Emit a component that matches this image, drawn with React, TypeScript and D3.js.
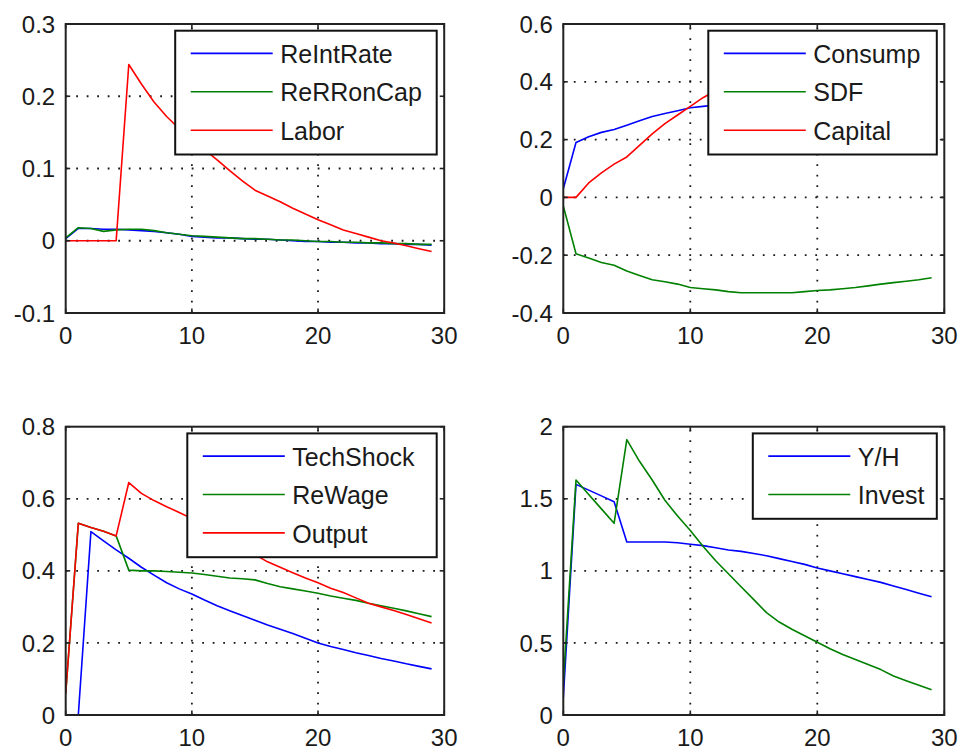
import React from "react";
import * as d3 from "d3";

// ---------- data ----------
const periods = [0, 1, 2, 3, 4, 5, 6, 7, 8, 9, 10, 11, 12, 13, 14, 15, 16, 17, 18, 19, 20, 21, 22, 23, 24, 25, 26, 27, 28, 29];
const xTicks = [0, 10, 20, 30];

// Panel 1
const reIntRate = [0.003, 0.017, 0.017, 0.016, 0.016, 0.015, 0.014, 0.013, 0.011, 0.009, 0.006, 0.005, 0.004, 0.004, 0.003, 0.002, 0.002, 0.001, 0.0, -0.001, -0.001, -0.002, -0.002, -0.003, -0.003, -0.004, -0.004, -0.005, -0.005, -0.006];
const reRRonCap = [0.004, 0.018, 0.017, 0.013, 0.015, 0.016, 0.016, 0.014, 0.011, 0.009, 0.007, 0.006, 0.005, 0.004, 0.003, 0.003, 0.002, 0.001, 0.001, 0.0, -0.001, -0.001, -0.002, -0.002, -0.003, -0.003, -0.004, -0.004, -0.005, -0.005];
const labor = [0, 0, 0, 0, 0, 0.244, 0.217, 0.192, 0.172, 0.155, 0.14, 0.126, 0.112, 0.097, 0.083, 0.07, 0.062, 0.054, 0.045, 0.037, 0.029, 0.022, 0.015, 0.01, 0.005, 0.0, -0.003, -0.007, -0.011, -0.015];
const yTicks1 = [-0.1, 0, 0.1, 0.2, 0.3];
const yLabels1 = ["-0.1", "0", "0.1", "0.2", "0.3"];

// Panel 2
const consump = [0.03, 0.19, 0.21, 0.225, 0.235, 0.25, 0.265, 0.28, 0.29, 0.3, 0.31, 0.315, 0.32, 0.325, 0.33, 0.335, 0.34, 0.342, 0.345, 0.347, 0.35, 0.35, 0.352, 0.352, 0.353, 0.353, 0.354, 0.354, 0.355, 0.355];
const sdf = [-0.03, -0.195, -0.21, -0.225, -0.235, -0.255, -0.27, -0.285, -0.292, -0.3, -0.312, -0.316, -0.32, -0.326, -0.33, -0.33, -0.33, -0.33, -0.33, -0.326, -0.322, -0.32, -0.316, -0.312, -0.306, -0.3, -0.295, -0.29, -0.285, -0.278];
const capital = [0, 0, 0.05, 0.085, 0.115, 0.14, 0.18, 0.22, 0.255, 0.285, 0.315, 0.345, 0.37, 0.39, 0.405, 0.42, 0.43, 0.44, 0.445, 0.45, 0.45, 0.45, 0.448, 0.446, 0.444, 0.442, 0.44, 0.437, 0.434, 0.43];
const yTicks2 = [-0.4, -0.2, 0, 0.2, 0.4, 0.6];
const yLabels2 = ["-0.4", "-0.2", "0", "0.2", "0.4", "0.6"];

// Panel 3
const techShock = [0, 0, 0.509, 0.483, 0.458, 0.435, 0.41, 0.388, 0.367, 0.35, 0.336, 0.319, 0.303, 0.289, 0.276, 0.263, 0.25, 0.238, 0.226, 0.213, 0.2, 0.19, 0.182, 0.173, 0.165, 0.157, 0.15, 0.142, 0.135, 0.128];
const reWage = [0.06, 0.532, 0.52, 0.51, 0.497, 0.402, 0.4, 0.4, 0.398, 0.396, 0.394, 0.39, 0.385, 0.38, 0.378, 0.375, 0.365, 0.356, 0.35, 0.344, 0.338, 0.33, 0.324, 0.318, 0.31, 0.303, 0.296, 0.289, 0.281, 0.273];
const output = [0.06, 0.532, 0.52, 0.51, 0.497, 0.645, 0.615, 0.595, 0.578, 0.562, 0.545, 0.525, 0.505, 0.485, 0.465, 0.445, 0.425, 0.41, 0.395, 0.38, 0.367, 0.352, 0.34, 0.325, 0.31, 0.3, 0.29, 0.279, 0.267, 0.255];
const yTicks3 = [0, 0.2, 0.4, 0.6, 0.8];
const yLabels3 = ["0", "0.2", "0.4", "0.6", "0.8"];

// Panel 4
const yPerH = [0.12, 1.6, 1.56, 1.52, 1.48, 1.2, 1.2, 1.2, 1.2, 1.195, 1.185, 1.175, 1.16, 1.145, 1.135, 1.12, 1.105, 1.085, 1.065, 1.045, 1.02, 1.0, 0.98, 0.96, 0.94, 0.92, 0.895, 0.87, 0.845, 0.82];
const invest = [0.22, 1.63, 1.53, 1.43, 1.33, 1.91, 1.76, 1.63, 1.49, 1.38, 1.28, 1.17, 1.07, 0.98, 0.89, 0.8, 0.71, 0.645, 0.595, 0.55, 0.505, 0.46, 0.42, 0.385, 0.35, 0.315, 0.27, 0.238, 0.206, 0.175];
const yTicks4 = [0, 0.5, 1, 1.5, 2];
const yLabels4 = ["0", "0.5", "1", "1.5", "2"];

const BLUE = "#0000ff";
const GREEN = "#008000";
const RED = "#ff0000";

type Series = { name: string; values: number[]; color: string };
type Panel = {
  id: string;
  left: number; right: number; top: number; bottom: number;
  yTicks: number[]; yLabels: string[];
  series: Series[];
  legendWidth: number;
};

const panels: Panel[] = [
  {
    id: "p1", left: 65.7, right: 444.2, top: 24, bottom: 313,
    yTicks: yTicks1, yLabels: yLabels1, legendWidth: 261.5,
    series: [
      { name: "ReIntRate", values: reIntRate, color: BLUE },
      { name: "ReRRonCap", values: reRRonCap, color: GREEN },
      { name: "Labor", values: labor, color: RED },
    ],
  },
  {
    id: "p2", left: 563.3, right: 944.3, top: 24, bottom: 313,
    yTicks: yTicks2, yLabels: yLabels2, legendWidth: 228.5,
    series: [
      { name: "Consump", values: consump, color: BLUE },
      { name: "SDF", values: sdf, color: GREEN },
      { name: "Capital", values: capital, color: RED },
    ],
  },
  {
    id: "p3", left: 65.7, right: 444.2, top: 426.7, bottom: 715,
    yTicks: yTicks3, yLabels: yLabels3, legendWidth: 249.4,
    series: [
      { name: "TechShock", values: techShock, color: BLUE },
      { name: "ReWage", values: reWage, color: GREEN },
      { name: "Output", values: output, color: RED },
    ],
  },
  {
    id: "p4", left: 563.3, right: 944.3, top: 426.7, bottom: 715,
    yTicks: yTicks4, yLabels: yLabels4, legendWidth: 184,
    series: [
      { name: "Y/H", values: yPerH, color: BLUE },
      { name: "Invest", values: invest, color: GREEN },
    ],
  },
];

const FONT = "'Liberation Sans', Arial, Helvetica, sans-serif";

function PanelView({ p }: { p: Panel }) {
  const x = d3.scaleLinear().domain([0, 30]).range([p.left, p.right]);
  const ymin = p.yTicks[0];
  const ymax = p.yTicks[p.yTicks.length - 1];
  const y = d3.scaleLinear().domain([ymin, ymax]).range([p.bottom, p.top]);
  const line = d3
    .line<number>()
    .x((_, i) => x(periods[i]))
    .y((d) => y(d));
  const tickLen = 4.5;
  const rowGap = 38.4;
  const lgRight = p.right - 7.5;
  const lgTop = p.top + 6.7;
  const lgLeft = lgRight - p.legendWidth;
  const lgHeight = 23 + (p.series.length - 1) * rowGap + 24;
  return (
    <g>
      <defs>
        <clipPath id={`clip-${p.id}`}>
          <rect x={p.left} y={p.top} width={p.right - p.left} height={p.bottom - p.top} />
        </clipPath>
      </defs>
      {/* grid */}
      <g stroke="#1a1a1a" strokeWidth={1.8} strokeDasharray="1.8 8.7">
        {xTicks.slice(1, -1).map((t) => (
          <line key={`gx${t}`} x1={x(t)} x2={x(t)} y1={p.bottom} y2={p.top} />
        ))}
        {p.yTicks.slice(1, -1).map((t) => (
          <line key={`gy${t}`} x1={p.left} x2={p.right} y1={y(t)} y2={y(t)} />
        ))}
      </g>
      {/* series */}
      <g clipPath={`url(#clip-${p.id})`} fill="none" strokeWidth={1.6} strokeLinejoin="round">
        {p.series.map((s) => (
          <path key={s.name} d={line(s.values) || ""} stroke={s.color} />
        ))}
      </g>
      {/* ticks */}
      <g stroke="#222" strokeWidth={1.6}>
        {xTicks.map((t) => (
          <g key={`tx${t}`}>
            <line x1={x(t)} x2={x(t)} y1={p.bottom} y2={p.bottom - tickLen} />
            <line x1={x(t)} x2={x(t)} y1={p.top} y2={p.top + tickLen} />
          </g>
        ))}
        {p.yTicks.map((t) => (
          <g key={`ty${t}`}>
            <line x1={p.left} x2={p.left + tickLen} y1={y(t)} y2={y(t)} />
            <line x1={p.right} x2={p.right - tickLen} y1={y(t)} y2={y(t)} />
          </g>
        ))}
      </g>
      {/* box */}
      <rect x={p.left} y={p.top} width={p.right - p.left} height={p.bottom - p.top} fill="none" stroke="#222" strokeWidth={2} />
      {/* tick labels */}
      <g fontFamily={FONT} fontSize={24} fill="#1a1a1a">
        {xTicks.map((t) => (
          <text key={`lx${t}`} x={x(t)} y={p.bottom + 30.5} textAnchor="middle">
            {t}
          </text>
        ))}
        {p.yTicks.map((t, i) => (
          <text key={`ly${t}`} x={p.left - 10.5} y={y(t) + 8.6} textAnchor="end">
            {p.yLabels[i]}
          </text>
        ))}
      </g>
      {/* legend */}
      <g>
        <rect x={lgLeft} y={lgTop} width={p.legendWidth} height={lgHeight} fill="#ffffff" stroke="#111" strokeWidth={2} />
        {p.series.map((s, i) => {
          const ly = lgTop + 22.7 + i * rowGap;
          return (
            <g key={`lg${s.name}`}>
              <line x1={lgLeft + 15.5} x2={lgLeft + 97.5} y1={ly} y2={ly} stroke={s.color} strokeWidth={1.6} />
              <text x={lgLeft + 105} y={ly + 9.6} fontFamily={FONT} fontSize={25} fill="#1a1a1a">
                {s.name}
              </text>
            </g>
          );
        })}
      </g>
    </g>
  );
}

export default function App() {
  return (
    <svg
      width={962}
      height={754}
      viewBox="0 0 962 754"
      style={{ position: "absolute", left: 0, top: 0, background: "#ffffff", display: "block" }}
    >
      <rect x={0} y={0} width={962} height={754} fill="#ffffff" />
      {panels.map((p) => (
        <PanelView key={p.id} p={p} />
      ))}
    </svg>
  );
}
